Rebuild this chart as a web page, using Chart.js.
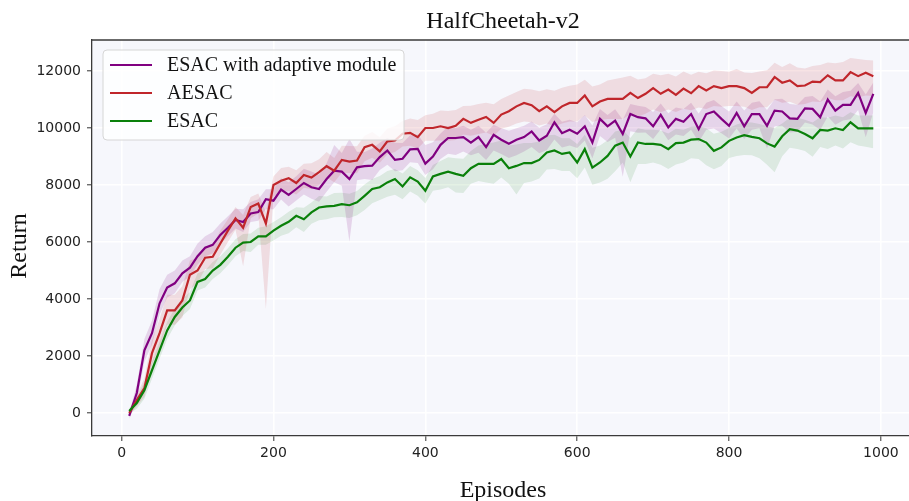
<!DOCTYPE html>
<html>
<head>
<meta charset="utf-8">
<script src="https://cdn.jsdelivr.net/npm/chart.js@4.4.0/dist/chart.umd.min.js"></script>
<style>
  html, body { margin: 0; padding: 0; background: #ffffff; }
  #wrap { width: 909px; height: 501px; }
</style>
</head>
<body>
<div id="wrap"><canvas id="chart" width="909" height="501"></canvas></div>
<script>
const episodes = [
  10, 20, 30, 40, 50, 60, 70, 80, 90, 100,
  110, 120, 130, 140, 150, 160, 170, 180, 190, 200,
  210, 220, 230, 240, 250, 260, 270, 280, 290, 300,
  310, 320, 330, 340, 350, 360, 370, 380, 390, 400,
  410, 420, 430, 440, 450, 460, 470, 480, 490, 500,
  510, 520, 530, 540, 550, 560, 570, 580, 590, 600,
  610, 620, 630, 640, 650, 660, 670, 680, 690, 700,
  710, 720, 730, 740, 750, 760, 770, 780, 790, 800,
  810, 820, 830, 840, 850, 860, 870, 880, 890, 900,
  910, 920, 930, 940, 950, 960, 970, 980, 990
];

const xTicks = [0, 200, 400, 600, 800, 1000];
const yTicks = [0, 2000, 4000, 6000, 8000, 10000, 12000];

const seriesNames = ['ESAC with adaptive module', 'AESAC', 'ESAC'];

// ESAC with adaptive module (purple)
const adaptiveMean = [
  -100, 700, 2200, 2800, 3850, 4400, 4550, 4900, 5100, 5500,
  5800, 5900, 6250, 6500, 6770, 6700, 7000, 7050, 7500, 7450,
  7840, 7650, 7860, 8070, 7920, 7860, 8210, 8500, 8470, 8210,
  8620, 8660, 8680, 8980, 9210, 8880, 8920, 9250, 9270, 8750,
  9000, 9410, 9650, 9650, 9680, 9490, 9680, 9330, 9760, 9590,
  9450, 9590, 9680, 9880, 9560, 9730, 10200, 9820, 9940, 9800,
  10060, 9490, 10320, 10060, 10260, 9790, 10490, 10380, 10340, 10060,
  10460, 10020, 10320, 10220, 10490, 9960, 10490, 10580, 10320, 10080,
  10530, 10060, 10490, 10490, 10080, 10610, 10580, 10340, 10320, 10690,
  10670, 10380, 11000, 10610, 10810, 10810, 11230, 10530, 11200
];
const adaptiveUp = [
  100, 300, 400, 450, 500, 450, 450, 450, 400, 450,
  400, 450, 400, 400, 400, 450, 400, 450, 350, 400,
  400, 450, 450, 500, 550, 500, 550, 900, 650, 1400,
  550, 500, 600, 500, 450, 600, 550, 500, 500, 650,
  500, 400, 400, 350, 400, 450, 400, 500, 350, 400,
  450, 400, 400, 350, 450, 400, 300, 400, 350, 400,
  400, 600, 350, 400, 400, 500, 350, 400, 400, 500,
  400, 500, 400, 450, 400, 550, 400, 400, 450, 500,
  400, 550, 400, 450, 550, 400, 450, 500, 500, 400,
  450, 550, 350, 500, 450, 500, 350, 650, 400
];
const adaptiveDown = [
  100, 300, 400, 400, 400, 350, 350, 300, 300, 300,
  300, 300, 300, 300, 300, 350, 300, 300, 350, 300,
  350, 400, 400, 400, 400, 450, 450, 400, 500, 2200,
  450, 450, 500, 450, 500, 400, 400, 450, 500, 400,
  450, 500, 550, 600, 500, 450, 550, 450, 550, 500,
  500, 550, 500, 550, 450, 500, 600, 500, 550, 500,
  500, 550, 600, 550, 600, 1500, 600, 550, 500, 450,
  500, 450, 550, 500, 550, 450, 550, 600, 500, 450,
  550, 450, 550, 500, 800, 550, 500, 500, 450, 500,
  550, 450, 600, 500, 550, 500, 600, 850, 650
];

// AESAC (red)
const aesacMean = [
  0, 450, 870, 2100, 2800, 3600, 3600, 3950, 4850, 5000,
  5450, 5480, 5950, 6400, 6830, 6500, 7230, 7350, 6650, 8000,
  8150, 8240, 8070, 8350, 8260, 8450, 8660, 8500, 8880, 8820,
  8860, 9330, 9410, 9180, 9530, 9560, 9800, 9830, 9680, 10000,
  10000, 10060, 10000, 10080, 10320, 10180, 10290, 10390, 10180, 10470,
  10590, 10760, 10880, 10800, 10590, 10760, 10560, 10760, 10880, 10880,
  11140, 10760, 10930, 11020, 11020, 11020, 11230, 11050, 11200, 11400,
  11200, 11350, 11160, 11380, 11220, 11470, 11320, 11470, 11400, 11470,
  11470, 11400, 11230, 11430, 11430, 11790, 11590, 11670, 11470, 11490,
  11630, 11610, 11850, 11670, 11670, 11960, 11820, 11940, 11820
];
const aesacUp = [
  100, 200, 350, 450, 500, 550, 550, 500, 500, 450,
  400, 400, 450, 400, 400, 450, 350, 350, 400, 300,
  450, 400, 450, 400, 500, 450, 500, 450, 500, 550,
  500, 400, 450, 500, 450, 500, 450, 500, 600, 450,
  500, 550, 600, 550, 450, 600, 550, 500, 650, 550,
  550, 500, 500, 550, 700, 600, 750, 650, 600, 650,
  550, 700, 600, 650, 700, 750, 600, 650, 550, 500,
  650, 550, 650, 600, 650, 500, 600, 550, 600, 500,
  600, 550, 700, 550, 600, 500, 550, 600, 650, 600,
  550, 600, 450, 600, 650, 500, 600, 450, 550
];
const aesacDown = [
  100, 200, 300, 400, 500, 500, 500, 600, 500, 450,
  400, 400, 400, 400, 400, 1350, 400, 350, 3000, 400,
  400, 450, 400, 450, 400, 450, 400, 400, 450, 400,
  450, 500, 450, 400, 450, 400, 450, 450, 400, 450,
  450, 500, 450, 500, 550, 450, 500, 550, 450, 500,
  550, 600, 650, 600, 500, 600, 500, 600, 650, 650,
  700, 550, 650, 700, 700, 700, 750, 650, 700, 750,
  650, 700, 600, 700, 600, 750, 650, 700, 650, 700,
  700, 650, 600, 700, 700, 800, 700, 750, 650, 650,
  700, 700, 800, 700, 700, 850, 750, 800, 700
];

// ESAC (green)
const esacMean = [
  70, 350, 800, 1500, 2200, 2900, 3370, 3700, 3950, 4600,
  4700, 5000, 5200, 5480, 5800, 5980, 6000, 6200, 6200, 6400,
  6570, 6710, 6920, 6800, 7040, 7210, 7250, 7270, 7330, 7290,
  7390, 7620, 7860, 7920, 8090, 8210, 7950, 8270, 8120, 7800,
  8300, 8390, 8470, 8390, 8320, 8590, 8740, 8740, 8740, 8910,
  8590, 8670, 8770, 8770, 8880, 9140, 9210, 9090, 9140, 8790,
  9260, 8610, 8790, 9020, 9380, 9490, 9000, 9490, 9440, 9440,
  9410, 9260, 9470, 9490, 9590, 9610, 9490, 9200, 9320, 9550,
  9670, 9750, 9690, 9640, 9460, 9350, 9710, 9960, 9910, 9790,
  9640, 9930, 9910, 9990, 9930, 10200, 9990, 9990, 9990
];
const esacUp = [
  100, 200, 300, 300, 300, 300, 300, 300, 300, 300,
  300, 300, 300, 300, 300, 300, 300, 300, 350, 300,
  300, 350, 300, 400, 350, 400, 350, 450, 400, 400,
  400, 400, 350, 400, 400, 350, 450, 400, 400, 450,
  400, 450, 500, 550, 600, 600, 650, 700, 750, 650,
  800, 750, 700, 700, 650, 600, 550, 550, 500, 650,
  500, 700, 600, 550, 500, 450, 650, 500, 500, 500,
  500, 550, 500, 450, 450, 450, 500, 600, 550, 450,
  450, 450, 500, 500, 600, 650, 450, 400, 450, 500,
  550, 450, 450, 450, 450, 350, 450, 450, 450
];
const esacDown = [
  100, 200, 300, 300, 300, 300, 300, 300, 300, 300,
  300, 300, 300, 300, 300, 300, 350, 300, 300, 350,
  350, 400, 400, 450, 400, 450, 450, 400, 450, 450,
  450, 500, 500, 450, 500, 550, 450, 500, 500, 450,
  500, 550, 550, 650, 600, 550, 600, 650, 700, 650,
  550, 1000, 700, 650, 650, 600, 650, 600, 650, 550,
  650, 600, 700, 800, 900, 700, 900, 750, 700, 650,
  700, 700, 750, 700, 650, 700, 800, 650, 650, 600,
  650, 700, 650, 700, 750, 900, 700, 650, 650, 600,
  650, 600, 650, 600, 650, 700, 600, 650, 700
];

const lineColors = ['#800080', '#c0262b', '#0a800a'];
const bandColors = ['rgba(128, 0, 128, 0.14)', 'rgba(190, 40, 50, 0.13)', 'rgba(10, 128, 10, 0.11)'];

function points(values) {
  return episodes.map((x, i) => ({ x: x, y: values[i] }));
}
function shifted(mean, delta, sign) {
  return episodes.map((x, i) => ({ x: x, y: mean[i] + sign * delta[i] }));
}

function lineSet(label, values, color) {
  return {
    label: label,
    data: points(values),
    borderColor: color,
    borderWidth: 2.2,
    pointRadius: 0,
    tension: 0,
    fill: false
  };
}
function bandPair(mean, up, down, color) {
  return [
    { label: '', data: shifted(mean, down, -1), borderWidth: 0, pointRadius: 0, fill: false, borderColor: 'rgba(0,0,0,0)' },
    { label: '', data: shifted(mean, up, 1), borderWidth: 0, pointRadius: 0, fill: '-1', backgroundColor: color, borderColor: 'rgba(0,0,0,0)' }
  ];
}

// first dataset is drawn on top, so lines go first and bands after
const datasets = [
  lineSet(seriesNames[2], esacMean, lineColors[2]),
  lineSet(seriesNames[1], aesacMean, lineColors[1]),
  lineSet(seriesNames[0], adaptiveMean, lineColors[0]),
  ...bandPair(aesacMean, aesacUp, aesacDown, bandColors[1]),
  ...bandPair(adaptiveMean, adaptiveUp, adaptiveDown, bandColors[0]),
  ...bandPair(esacMean, esacUp, esacDown, bandColors[2])
];

const serif = '"Liberation Serif", "DejaVu Serif", serif';

const decorations = {
  id: 'decorations',
  beforeDraw(chart) {
    const { ctx, chartArea: a } = chart;
    ctx.save();
    ctx.fillStyle = '#f6f7fc';
    ctx.fillRect(a.left, a.top, a.right - a.left, a.bottom - a.top);
    ctx.restore();
  },
  afterDraw(chart) {
    const { ctx, chartArea: a } = chart;
    ctx.save();
    // top spine
    ctx.strokeStyle = '#3a3a3a';
    ctx.lineWidth = 1.3;
    ctx.beginPath();
    ctx.moveTo(a.left, a.top);
    ctx.lineTo(a.right, a.top);
    ctx.stroke();

    // titles
    ctx.fillStyle = '#111';
    ctx.font = '24px ' + serif;
    ctx.textAlign = 'center';
    ctx.textBaseline = 'alphabetic';
    ctx.fillText('HalfCheetah-v2', 503, 28);
    ctx.fillText('Episodes', 503, 497);
    ctx.save();
    ctx.translate(26, 246);
    ctx.rotate(-Math.PI / 2);
    ctx.fillText('Return', 0, 0);
    ctx.restore();

    // legend box
    const bx = 103, by = 50, bw = 301, bh = 90, r = 4;
    ctx.beginPath();
    ctx.moveTo(bx + r, by);
    ctx.lineTo(bx + bw - r, by);
    ctx.quadraticCurveTo(bx + bw, by, bx + bw, by + r);
    ctx.lineTo(bx + bw, by + bh - r);
    ctx.quadraticCurveTo(bx + bw, by + bh, bx + bw - r, by + bh);
    ctx.lineTo(bx + r, by + bh);
    ctx.quadraticCurveTo(bx, by + bh, bx, by + bh - r);
    ctx.lineTo(bx, by + r);
    ctx.quadraticCurveTo(bx, by, bx + r, by);
    ctx.closePath();
    ctx.fillStyle = 'rgba(255, 255, 255, 0.8)';
    ctx.fill();
    ctx.strokeStyle = '#d6d6d6';
    ctx.lineWidth = 1;
    ctx.stroke();

    ctx.font = '20px ' + serif;
    ctx.textAlign = 'left';
    ctx.textBaseline = 'middle';
    seriesNames.forEach((name, i) => {
      const y = 65 + i * 28;
      ctx.strokeStyle = lineColors[i];
      ctx.lineWidth = 2;
      ctx.beginPath();
      ctx.moveTo(110, y);
      ctx.lineTo(152, y);
      ctx.stroke();
      ctx.fillStyle = '#111';
      ctx.fillText(name, 167, y + 1);
    });
    ctx.restore();
  }
};

new Chart(document.getElementById('chart').getContext('2d'), {
  type: 'line',
  data: { datasets: datasets },
  plugins: [decorations],
  options: {
    responsive: false,
    animation: false,
    devicePixelRatio: 1,
    layout: { padding: { top: 40, right: 0, bottom: 0, left: 0 } },
    plugins: {
      legend: { display: false },
      tooltip: { enabled: false },
      title: { display: false },
      filler: { propagate: false }
    },
    scales: {
      x: {
        type: 'linear',
        min: -39,
        max: 1037,
        afterFit: (s) => { s.height = 65; },
        afterBuildTicks: (s) => { s.ticks = xTicks.map((v) => ({ value: v })); },
        ticks: {
          font: { family: '"DejaVu Sans"', size: 14 },
          color: '#222',
          padding: 4,
          maxRotation: 0,
          callback: (v) => String(v)
        },
        grid: { color: '#ffffff', lineWidth: 1.6, tickColor: '#333', tickLength: 5, tickWidth: 1 },
        border: { display: true, color: '#3a3a3a', width: 1.3 }
      },
      y: {
        type: 'linear',
        min: -807,
        max: 13088,
        afterFit: (s) => { s.width = 92; },
        afterBuildTicks: (s) => { s.ticks = yTicks.map((v) => ({ value: v })); },
        ticks: {
          font: { family: '"DejaVu Sans"', size: 14 },
          color: '#222',
          padding: 6,
          callback: (v) => String(v)
        },
        grid: { color: '#ffffff', lineWidth: 1.6, tickColor: '#333', tickLength: 5, tickWidth: 1 },
        border: { display: true, color: '#3a3a3a', width: 1.3 }
      }
    }
  }
});
</script>
</body>
</html>
